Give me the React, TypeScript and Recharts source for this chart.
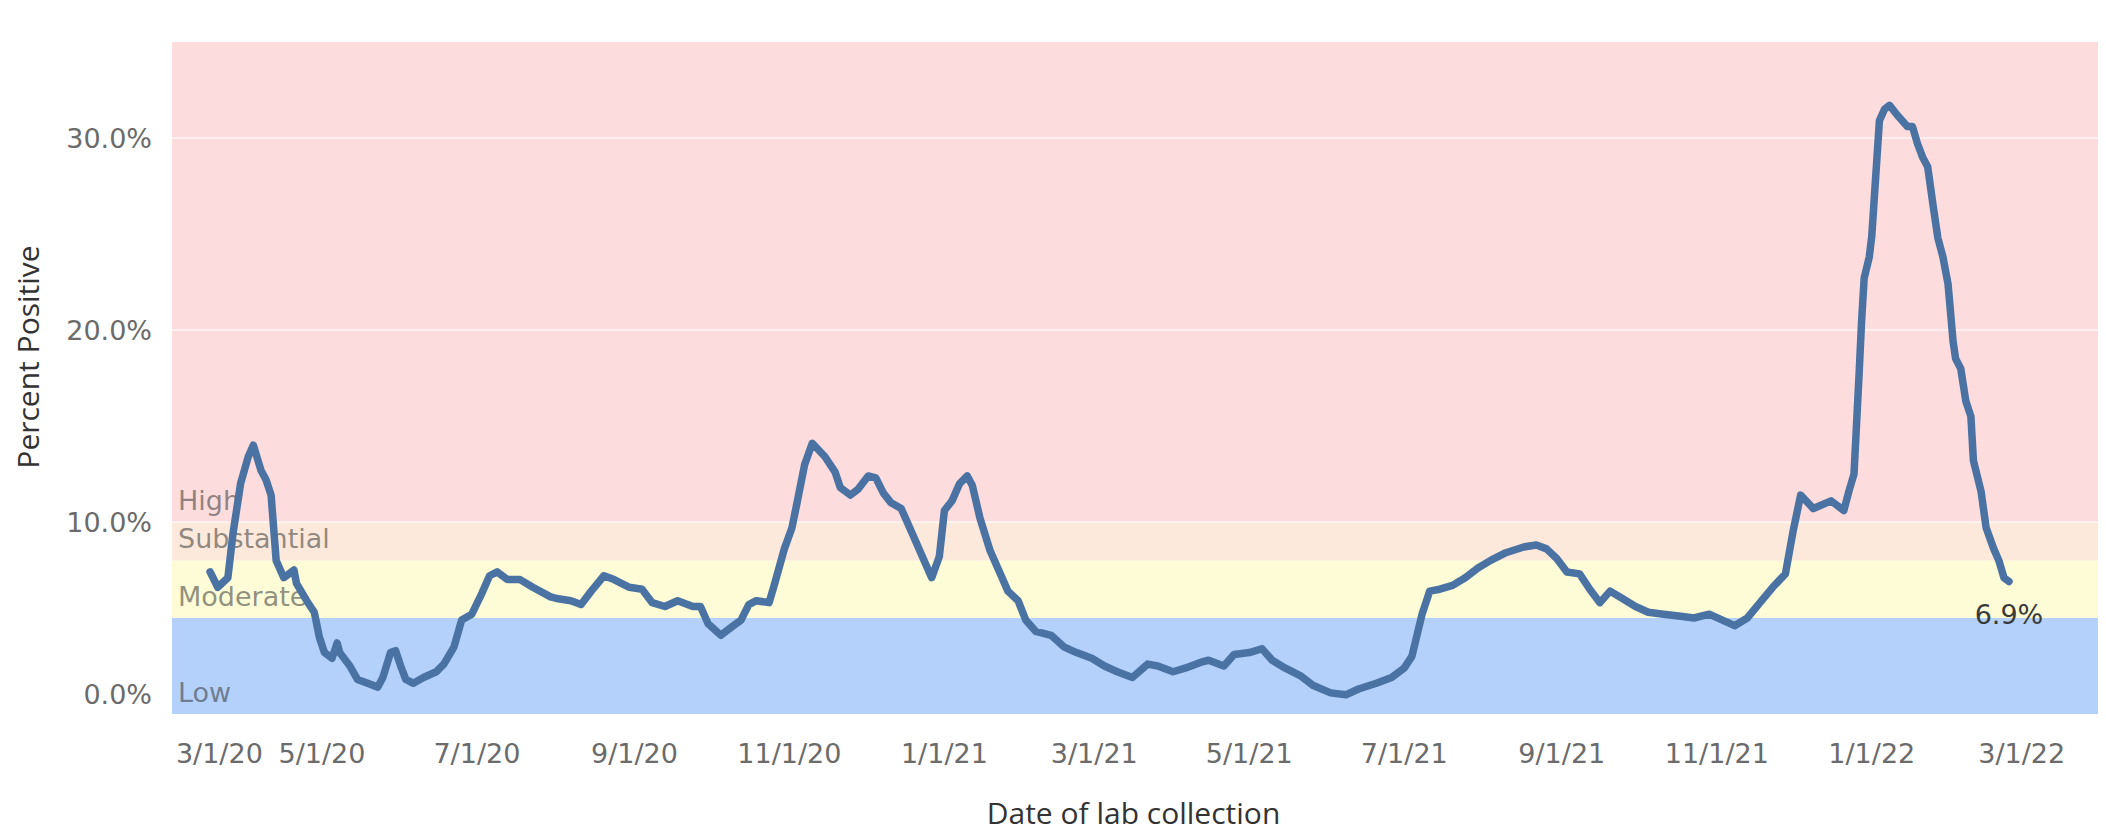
import React from 'react';
import { LineChart, Line, XAxis, YAxis, ReferenceArea, ReferenceLine, Label, LabelList } from 'recharts';

// ---- data ----
const dates = ['3/18/20','3/21/20','3/25/20','3/27/20','3/30/20','4/2/20','4/4/20','4/7/20','4/9/20','4/11/20','4/13/20','4/16/20','4/20/20','4/21/20','4/25/20','4/28/20','4/30/20','5/2/20','5/5/20','5/7/20','5/8/20','5/12/20','5/15/20','5/19/20','5/23/20','5/25/20','5/28/20','5/30/20','6/1/20','6/3/20','6/6/20','6/10/20','6/15/20','6/18/20','6/22/20','6/25/20','6/29/20','7/3/20','7/6/20','7/9/20','7/13/20','7/18/20','7/23/20','7/30/20','8/2/20','8/7/20','8/11/20','8/15/20','8/20/20','8/24/20','8/30/20','9/4/20','9/8/20','9/13/20','9/18/20','9/24/20','9/27/20','9/30/20','10/5/20','10/9/20','10/13/20','10/16/20','10/19/20','10/24/20','10/26/20','10/30/20','11/2/20','11/4/20','11/7/20','11/10/20','11/15/20','11/19/20','11/21/20','11/25/20','11/28/20','12/2/20','12/5/20','12/8/20','12/11/20','12/15/20','12/19/20','12/24/20','12/27/20','12/30/20','1/1/21','1/4/21','1/7/21','1/10/21','1/12/21','1/15/21','1/19/21','1/23/21','1/26/21','1/30/21','2/2/21','2/6/21','2/12/21','2/17/21','2/22/21','2/28/21','3/5/21','3/10/21','3/16/21','3/22/21','3/26/21','4/1/21','4/6/21','4/12/21','4/15/21','4/21/21','4/25/21','5/1/21','5/6/21','5/10/21','5/15/21','5/21/21','5/26/21','6/2/21','6/8/21','6/13/21','6/20/21','6/26/21','7/1/21','7/4/21','7/8/21','7/11/21','7/15/21','7/20/21','7/25/21','7/30/21','8/4/21','8/10/21','8/17/21','8/22/21','8/26/21','8/30/21','9/3/21','9/8/21','9/12/21','9/16/21','9/20/21','9/25/21','9/30/21','10/5/21','10/11/21','10/17/21','10/23/21','10/29/21','11/3/21','11/8/21','11/13/21','11/18/21','11/23/21','11/28/21','12/1/21','12/4/21','12/9/21','12/16/21','12/21/21','12/23/21','12/25/21','12/27/21','12/28/21','12/29/21','12/31/21','1/1/22','1/3/22','1/4/22','1/6/22','1/8/22','1/11/22','1/15/22','1/17/22','1/19/22','1/21/22','1/23/22','1/25/22','1/27/22','1/29/22','1/31/22','2/2/22','2/3/22','2/5/22','2/7/22','2/9/22','2/10/22','2/13/22','2/15/22','2/18/22','2/20/22','2/22/22','2/24/22'];

const percentPositive = [7.4,6.6,7.1,9.4,12.0,13.4,14.0,12.7,12.2,11.4,8.0,7.1,7.5,6.8,5.9,5.3,4.0,3.2,2.9,3.7,3.2,2.5,1.8,1.6,1.4,1.9,3.2,3.3,2.5,1.8,1.6,1.9,2.2,2.6,3.5,4.9,5.2,6.3,7.2,7.4,7.0,7.0,6.6,6.1,6.0,5.9,5.7,6.4,7.2,7.0,6.6,6.5,5.8,5.6,5.9,5.6,5.6,4.7,4.1,4.5,4.9,5.7,5.9,5.8,6.7,8.6,9.7,11.0,13.0,14.1,13.4,12.6,11.8,11.4,11.7,12.4,12.3,11.5,11.0,10.7,9.5,8.0,7.1,8.2,10.6,11.1,12.0,12.4,11.9,10.2,8.5,7.3,6.4,5.9,4.9,4.3,4.1,3.5,3.2,2.9,2.5,2.2,1.9,2.6,2.5,2.2,2.4,2.7,2.8,2.5,3.1,3.2,3.4,2.8,2.4,2.0,1.5,1.1,1.0,1.3,1.6,1.9,2.4,3.0,5.2,6.4,6.5,6.7,7.1,7.6,8.0,8.4,8.7,8.8,8.6,8.1,7.4,7.3,6.5,5.8,6.4,6.0,5.6,5.3,5.2,5.1,5.0,5.2,4.9,4.6,5.0,5.8,6.6,7.3,9.5,11.4,10.7,11.1,10.6,11.6,12.5,17.7,20.5,22.7,23.8,24.9,28.9,30.9,31.5,31.7,31.2,30.6,30.6,29.7,29.0,28.5,26.6,24.8,23.8,22.4,19.4,18.5,18.0,16.3,15.5,13.2,11.6,9.7,8.6,8.0,7.1,6.9];

const xTickLabels = ['3/1/20','5/1/20','7/1/20','9/1/20','11/1/20','1/1/21','3/1/21','5/1/21','7/1/21','9/1/21','11/1/21','1/1/22','3/1/22'];
const xDomainDates = ['3/3/20', '4/2/22'];
const yTicks = [0, 10, 20, 30];
const yDomain = [0, 35];

const bandNames = ['Low', 'Moderate', 'Substantial', 'High'];
const bandLower = [0, 5, 8, 10];
const bandUpper = [5, 8, 10, 35];

// ---- styles ----
const BAND_COLORS = ['#b3d1fb', '#fefcd6', '#fde9db', '#fddcdd'];
const LINE_COLOR = '#4a72a3';
const TICK_FONT = 'DejaVu Sans, Verdana, sans-serif';
const TITLE_FONT = '"Open Sans", sans-serif';

function parseDate(s: string): number {
  const [m, d, y] = s.split('/').map(Number);
  return Date.UTC(2000 + y, m - 1, d);
}

const xTickValues = xTickLabels.map(parseDate);

const XTick = (props: any) => {
  const { x, y, payload } = props;
  const idx = xTickValues.indexOf(payload.value);
  const first = idx === 0;
  return (
    <text
      x={first ? x + 9 : x}
      y={y + 23}
      textAnchor={first ? 'start' : 'middle'}
      fontFamily={TICK_FONT}
      fontSize={27}
      fill="#6b6b6b"
    >
      {xTickLabels[idx]}
    </text>
  );
};

const YTick = (props: any) => {
  const { x, y, payload } = props;
  const v = payload.value as number;
  const cy = v === yDomain[0] ? y - 20 : y;
  return (
    <text x={x} y={cy + 10} textAnchor="end" fontFamily={TICK_FONT} fontSize={27} fill="#6b6b6b">
      {v.toFixed(1) + '%'}
    </text>
  );
};

const bandLabel = (name: string) => (props: any) => {
  const vb = props.viewBox || {};
  return (
    <text
      x={vb.x + 6}
      y={vb.y + vb.height - 12}
      fontFamily={TICK_FONT}
      fontSize={27}
      fill="#333333"
      fillOpacity={0.55}
    >
      {name}
    </text>
  );
};

export default function App() {
  const data = dates.map((d, i) => ({ t: parseDate(d), v: percentPositive[i] }));
  const last = data.length - 1;

  const renderLast = (props: any) => {
    const { x, y, index, value } = props;
    if (index !== last) return null;
    return (
      <text x={x} y={y + 42} textAnchor="middle" fontFamily={TICK_FONT} fontSize={27} fill="#3a3a3a">
        {Number(value).toFixed(1) + '%'}
      </text>
    );
  };

  return (
    <LineChart
      width={2098}
      height={825}
      data={data}
      margin={{ top: 34, right: 3, bottom: 0, left: 0 }}
    >
      <XAxis
        dataKey="t"
        type="number"
        domain={[parseDate(xDomainDates[0]), parseDate(xDomainDates[1])]}
        allowDataOverflow
        ticks={xTickValues}
        interval={0}
        axisLine={false}
        tickLine={false}
        tickSize={0}
        tickMargin={26}
        height={119}
        tick={<XTick />}
        label={
          <Label
            content={(p: any) => {
              const vb = p.viewBox || {};
              return (
                <text
                  x={vb.x + vb.width / 2 - 4}
                  y={vb.y + 110}
                  textAnchor="middle"
                  fontFamily={TITLE_FONT}
                  fontSize={30}
                  fill="#333333"
                >
                  Date of lab collection
                </text>
              );
            }}
          />
        }
      />
      <YAxis
        type="number"
        domain={yDomain}
        ticks={yTicks}
        interval={0}
        width={164}
        axisLine={false}
        tickLine={false}
        tickSize={0}
        tickMargin={20}
        tick={<YTick />}
        label={
          <Label
            content={(p: any) => {
              const vb = p.viewBox || {};
              const cx = vb.x + 31;
              const cy = vb.y + vb.height / 2 - 21;
              return (
                <text
                  x={cx}
                  y={cy}
                  textAnchor="middle"
                  transform={`rotate(-90 ${cx} ${cy})`}
                  fontFamily={TITLE_FONT}
                  fontSize={30}
                  fill="#333333"
                >
                  Percent Positive
                </text>
              );
            }}
          />
        }
      />
      {bandNames.map((name, i) => (
        <ReferenceArea
          key={name}
          y1={bandLower[i]}
          y2={bandUpper[i]}
          fill={BAND_COLORS[i]}
          fillOpacity={1}
          stroke="none"
          label={bandLabel(name)}
        />
      ))}
      {yTicks.slice(1).map((t) => (
        <ReferenceLine key={t} y={t} stroke="#ffffff" strokeOpacity={0.75} strokeWidth={1.5} />
      ))}
      <Line
        type="linear"
        dataKey="v"
        stroke={LINE_COLOR}
        strokeWidth={7.5}
        strokeLinejoin="round"
        strokeLinecap="round"
        dot={false}
        activeDot={false}
        isAnimationActive={false}
      >
        <LabelList dataKey="v" content={renderLast} />
      </Line>
    </LineChart>
  );
}
